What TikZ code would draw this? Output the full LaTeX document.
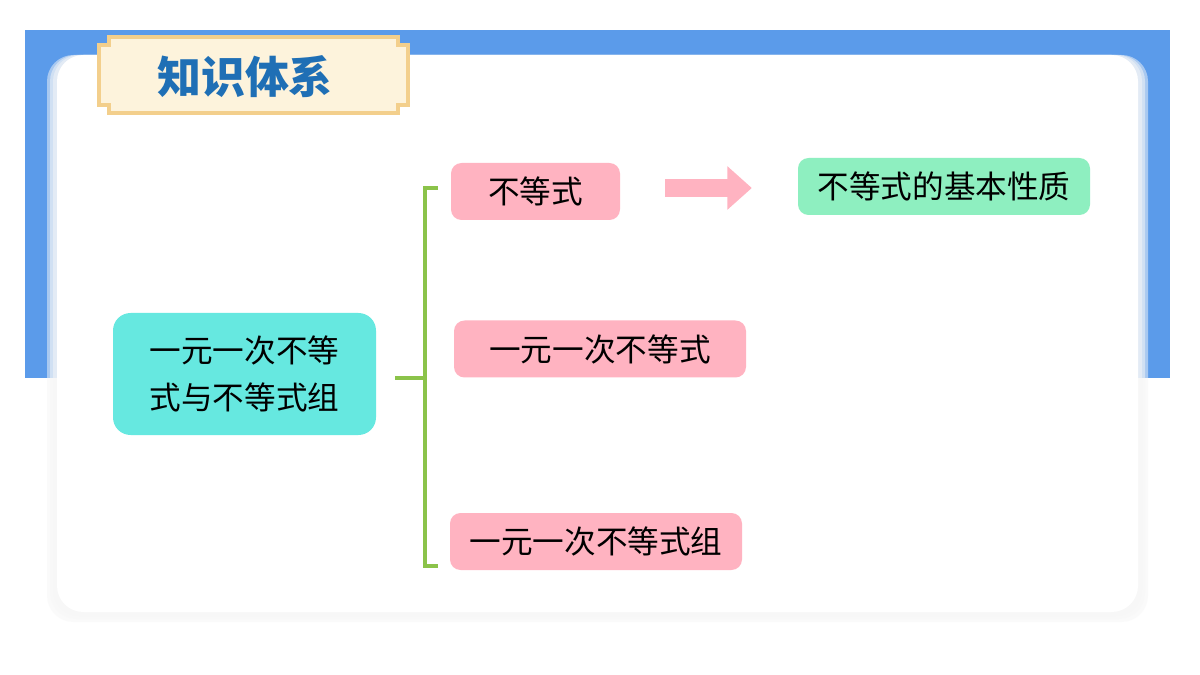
\documentclass[tikz,border=0pt]{standalone}
\usepackage{fontspec}
\setmainfont{Noto Sans CJK SC}
\usetikzlibrary{positioning,calc,arrows.meta}
\definecolor{bandblue}{HTML}{5B9BEA}
\definecolor{titleblue}{HTML}{1F6FB5}
\definecolor{badgefill}{HTML}{FDF3DC}
\definecolor{badgeline}{HTML}{F3CF8C}
\definecolor{maincyan}{HTML}{66E8E0}
\definecolor{subpink}{HTML}{FFB3C1}
\definecolor{leafgreen}{HTML}{8EEFC0}
\definecolor{bracegreen}{HTML}{8BC34A}

\begin{document}
\begin{tikzpicture}[
    x=0.02cm, y=-0.02cm,
    box/.style={rounded corners=6pt, inner sep=0pt, font=\fontsize{18}{27}\selectfont},
    mainbox/.style={box, fill=maincyan, rounded corners=10pt, minimum width=263*0.02cm, minimum height=122*0.02cm, align=left},
    subbox/.style={box, fill=subpink, minimum height=57*0.02cm},
    leafbox/.style={box, fill=leafgreen, minimum height=57*0.02cm},
    brace/.style={bracegreen, line width=1.8pt}
    ]
    \useasboundingbox (0,0) rectangle (1200,675);
    % background
    \fill[white] (0,0) rectangle (1200,675);
    \fill[bandblue] (25,30) rectangle (1170,378);
    \foreach \s in {10,7,4}{
    \fill[black!3, rounded corners=15pt, opacity=0.5] (57-\s,55) rectangle (1138+\s,612+\s);
    }
    \fill[white, rounded corners=15pt] (57,55) rectangle (1138,612);
    % title badge
    \draw[badgeline, fill=badgefill, line width=2pt]
        (109,37) -- (398,37) -- (398,45) -- (408,45) -- (408,105) -- (398,105) -- (398,113)
        -- (109,113) -- (109,105) -- (99,105) -- (99,45) -- (109,45) -- cycle;
    \node[font=\fontsize{25}{30}\selectfont\bfseries, text=titleblue] (title) at (245,77) {知识体系};
    % nodes
    \node[mainbox] (main) at (244.5,374) {一元一次不等\\式与不等式组};
    \node[subbox, minimum width=169*0.02cm] (ineq) at (535.5,191.5) {不等式};
    \node[subbox, minimum width=292*0.02cm] (linear) at (600,349) {一元一次不等式};
    \node[subbox, minimum width=292*0.02cm] (system) at (596,541.5) {一元一次不等式组};
    \node[leafbox, minimum width=292*0.02cm] (prop) at (944,186.5) {不等式的基本性质};
    % brace
    \coordinate (bend) at (425,378);
    \draw[brace] (438,188) -- (425,188) -- (425,566) -- (438,566);
    \draw[brace] (bend) -- (395,378);
    % arrow
    \draw[-{Triangle[length=14pt,width=24pt]}, subpink, line width=10pt, shorten <=45pt*0.02/0.0353, shorten >=46pt*0.02/0.0353]
        (ineq.east|-0,188) -- (prop.west|-0,188);
\end{tikzpicture}
\end{document}
